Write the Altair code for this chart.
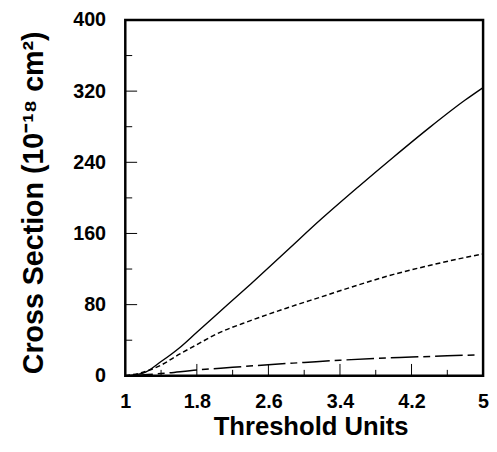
import altair as alt
import pandas as pd

# Curve readings (threshold units -> cross section, 1e-18 cm^2)
x_solid = [1.0, 1.2, 1.4, 1.6, 1.8, 2.0, 2.4, 2.8, 3.2, 3.6, 4.0, 4.4, 4.8, 5.0]
y_solid = [0, 3, 16, 31, 49, 67, 103, 140, 177, 212, 246, 279, 310, 324]

x_dash = [1.0, 1.2, 1.4, 1.6, 1.8, 2.0, 2.4, 2.8, 3.2, 3.6, 4.0, 4.4, 4.8, 5.0]
y_dash = [0, 4, 12, 24, 35, 46, 62, 76, 89, 102, 114, 124, 133, 137]

x_dashdot = [1.0, 1.4, 1.8, 2.2, 2.6, 3.0, 3.4, 3.8, 4.2, 4.6, 4.95]
y_dashdot = [0, 2.5, 6.5, 9.5, 12.5, 15, 17.5, 19.5, 21, 22.5, 23.5]

x_tick_labels = [1, 1.8, 2.6, 3.4, 4.2, 5]
x_minor = [1.4, 2.2, 3.0, 3.8, 4.6]
y_tick_labels = [0, 80, 160, 240, 320, 400]
y_minor = [40, 120, 200, 280, 360]

W, H = 363, 361

df = pd.concat([
    pd.DataFrame({"x": x_solid, "y": y_solid, "s": "solid"}),
    pd.DataFrame({"x": x_dash, "y": y_dash, "s": "dash"}),
    pd.DataFrame({"x": x_dashdot, "y": y_dashdot, "s": "dashdot"}),
])

xscale = alt.Scale(domain=[1, 5], nice=False, zero=False)
yscale = alt.Scale(domain=[0, 400], nice=False)

xaxis = alt.Axis(
    values=x_tick_labels, format="~g", title="Threshold Units", ticks=False, domain=False, grid=False,
    labelFont="Liberation Sans", labelFontWeight="bold", labelFontSize=20, labelColor="black",
    labelBaseline="alphabetic", labelPadding=32, labelFlush=False,
    titleFont="Liberation Sans", titleFontWeight="bold", titleFontSize=26, titleColor="black",
    titleBaseline="alphabetic", titleX=188, titleY=60, titleAlign="center",
)
yaxis = alt.Axis(
    values=y_tick_labels, title="Cross Section (10⁻¹⁸ cm²)", ticks=False, domain=False, grid=False,
    labelFont="Liberation Sans", labelFontWeight="bold", labelFontSize=20, labelColor="black",
    labelPadding=20, labelFlush=False,
    titleFont="Liberation Sans", titleFontWeight="bold", titleFontSize=29,
    titleColor="black", titleAngle=270, titleBaseline="alphabetic", titleX=-84, titleY=185,
    titleAlign="center",
)

base = alt.Chart(df)

solid = base.transform_filter(alt.datum.s == "solid").mark_line(
    color="black", strokeWidth=1.4, interpolate="monotone").encode(
    x=alt.X("x:Q", scale=xscale, axis=xaxis), y=alt.Y("y:Q", scale=yscale, axis=yaxis))
dash = base.transform_filter(alt.datum.s == "dash").mark_line(
    color="black", strokeWidth=1.5, strokeDash=[5, 3], interpolate="monotone").encode(
    x=alt.X("x:Q", scale=xscale), y=alt.Y("y:Q", scale=yscale))
dashdot = base.transform_filter(alt.datum.s == "dashdot").mark_line(
    color="black", strokeWidth=1.5, strokeDash=[28, 5, 7, 5], interpolate="monotone").encode(
    x=alt.X("x:Q", scale=xscale), y=alt.Y("y:Q", scale=yscale))

xmaj = alt.Chart(pd.DataFrame({"v": x_tick_labels[1:-1]})).mark_rule(color="black", strokeWidth=1).encode(
    x=alt.X("v:Q", scale=xscale), y=alt.value(H), y2=alt.value(H - 12))
xmin = alt.Chart(pd.DataFrame({"v": x_minor})).mark_rule(color="black", strokeWidth=1).encode(
    x=alt.X("v:Q", scale=xscale), y=alt.value(H), y2=alt.value(H - 6))
ymaj = alt.Chart(pd.DataFrame({"v": y_tick_labels[1:-1]})).mark_rule(color="black", strokeWidth=1).encode(
    y=alt.Y("v:Q", scale=yscale), x=alt.value(0), x2=alt.value(12))
ymin = alt.Chart(pd.DataFrame({"v": y_minor})).mark_rule(color="black", strokeWidth=1).encode(
    y=alt.Y("v:Q", scale=yscale), x=alt.value(0), x2=alt.value(7))

chart = alt.layer(solid, dash, dashdot, xmaj, xmin, ymaj, ymin).properties(
    width=W, height=H,
    autosize=alt.AutoSizeParams(type="none"),
    padding={"left": 119, "top": 9, "right": 6, "bottom": 62},
    background="white",
).configure_view(stroke="black", strokeWidth=2.5)

chart.save("out.html", embed_options={"renderer": "svg", "actions": False})
